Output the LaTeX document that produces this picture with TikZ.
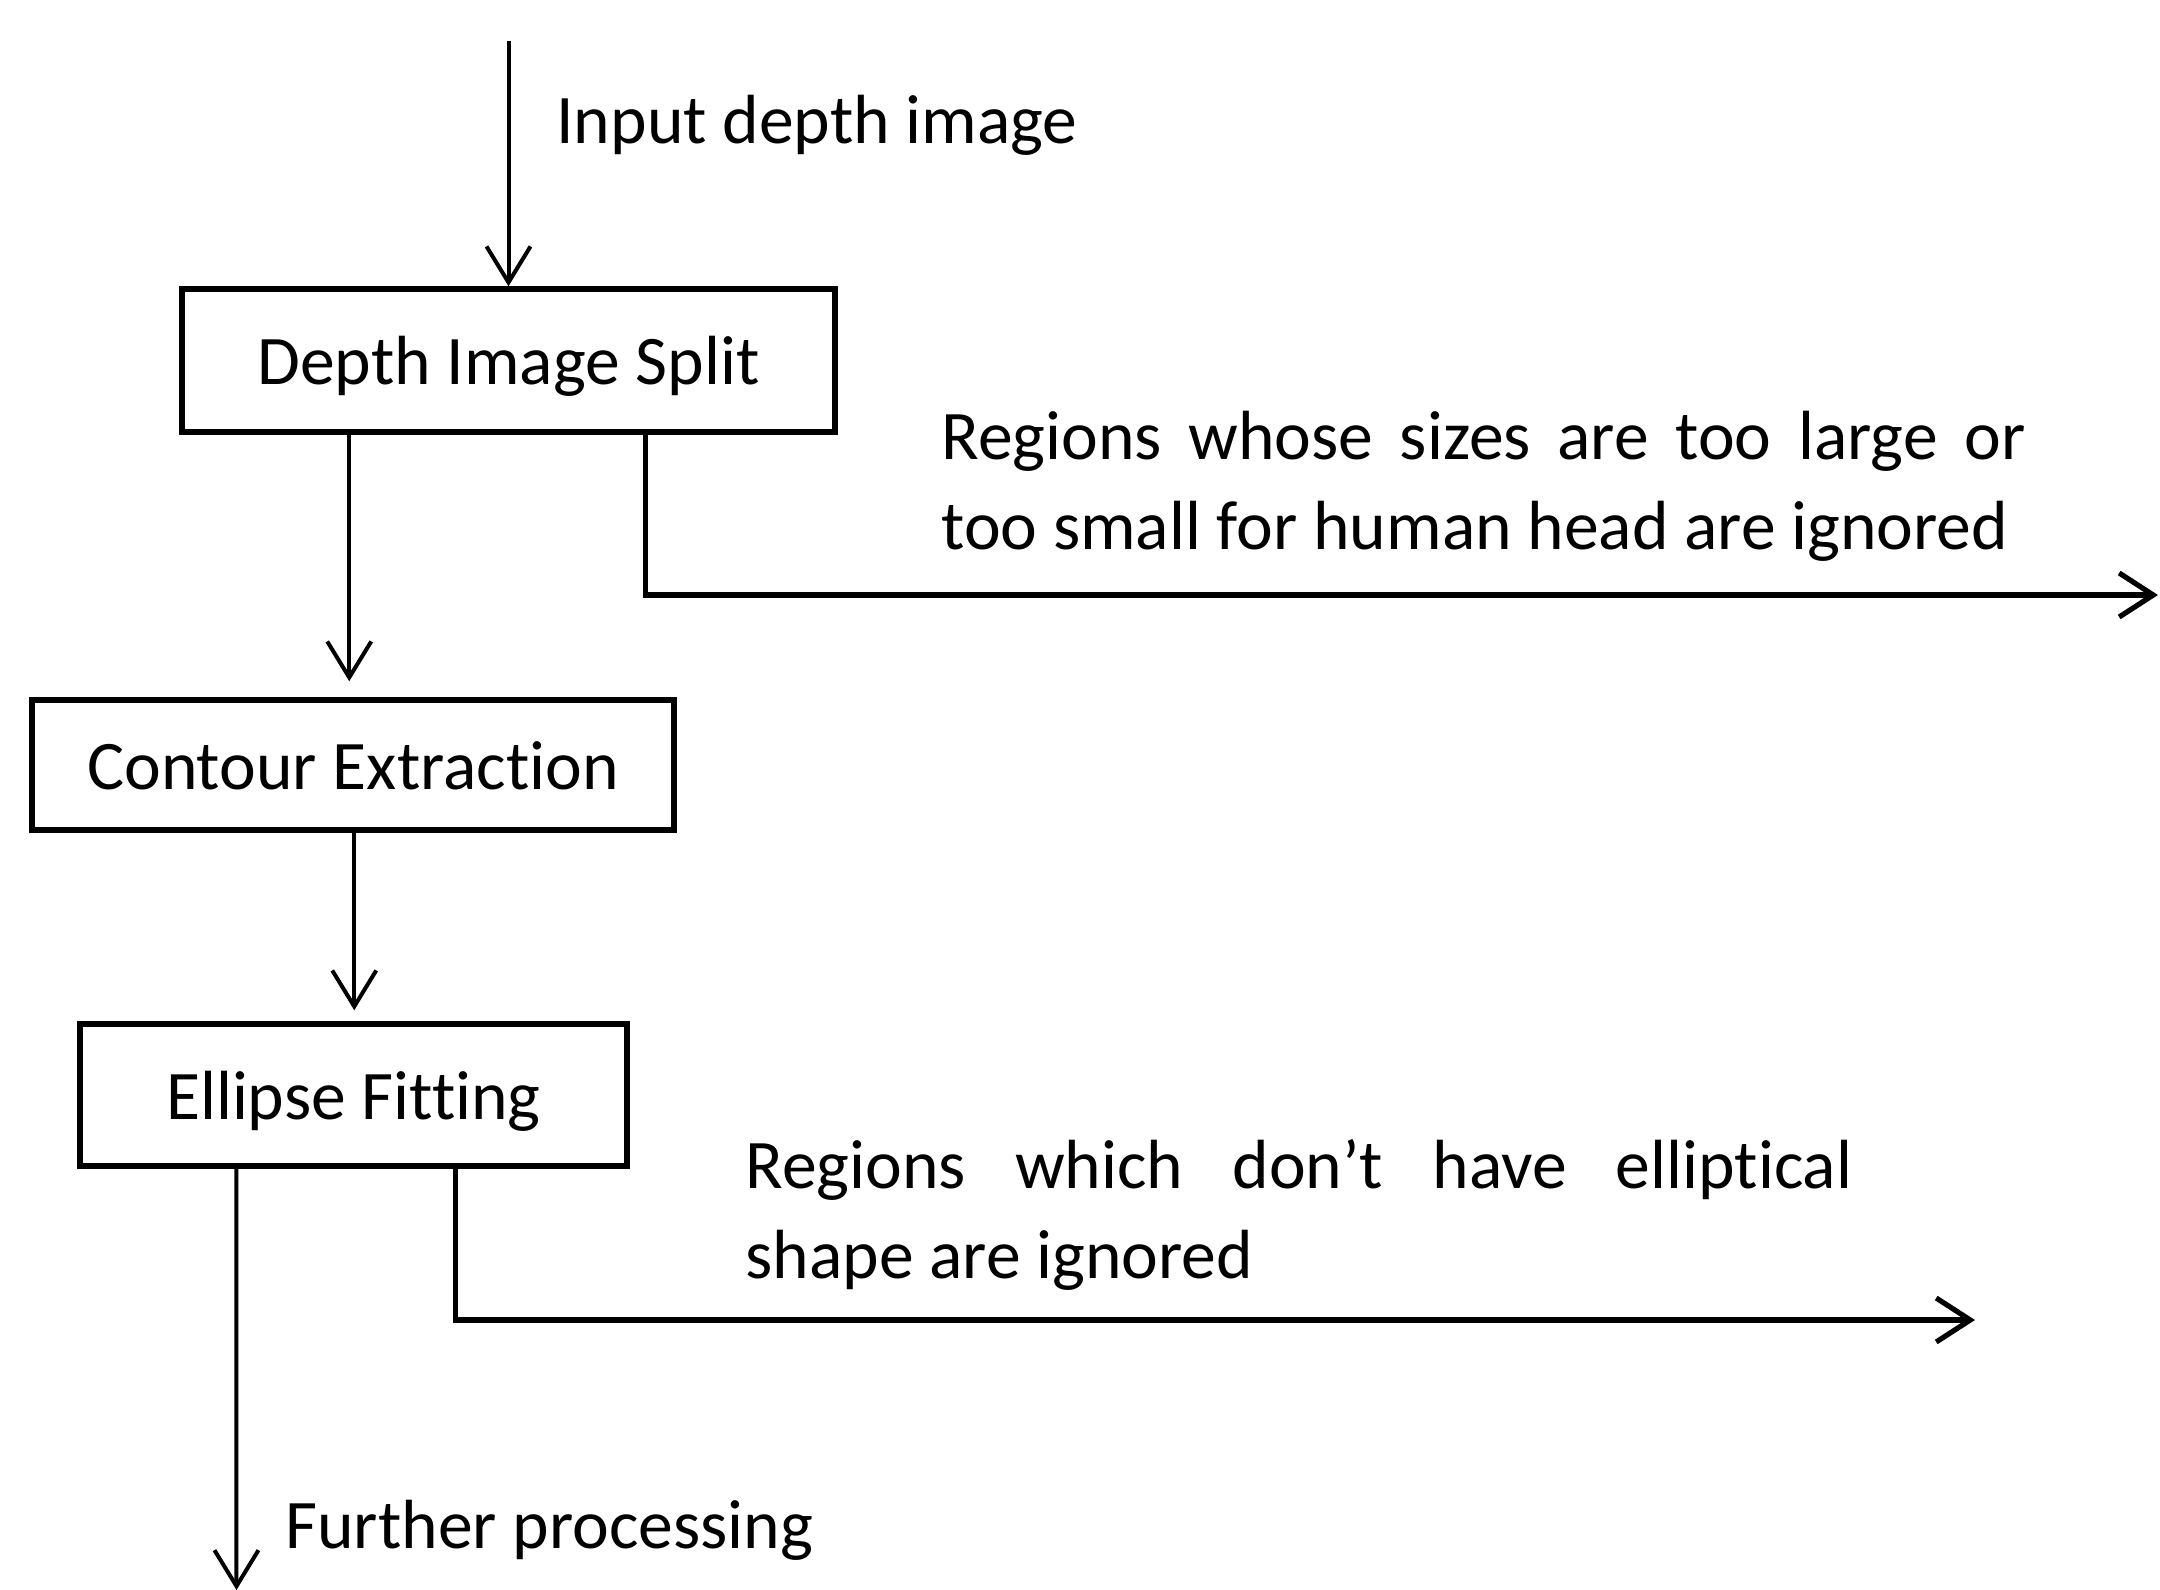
\documentclass[tikz,border=0pt]{standalone}
\usepackage{fontspec}
\setmainfont{Carlito}[Ligatures={NoCommon}]
\usetikzlibrary{arrows.meta,calc}
\begin{document}
\begin{tikzpicture}[x=0.5pt,y=-0.5pt,
  box/.style={draw, line width=2.75pt, inner sep=0pt, text height=30pt, text depth=6pt,
    font=\fontsize{34.8pt}{45pt}\selectfont},
  arr/.style={line width=2pt, -{Straight Barb[length=18pt,width=22pt]}},
  branch/.style={line width=2.6pt, -{Straight Barb[length=17pt,width=22pt]}},
  txt/.style={inner sep=0pt, font=\fontsize{34.8pt}{45pt}\selectfont}]
\useasboundingbox (0,0) rectangle (2160,1590);
% boxes
\node[box, minimum width=326.5pt, minimum height=71.5pt] (split) at (508.5,360.5) {Depth Image Split};
\node[box, minimum width=321pt, minimum height=65pt] (contour) at (353,765) {Contour Extraction};
\node[box, minimum width=273.5pt, minimum height=71pt] (ellipse) at (353.5,1095) {Ellipse Fitting};
% free ends and branch points
\coordinate (in) at (508.5,41);
\coordinate (out1) at (2158,595);
\coordinate (out2) at (1975,1320);
\coordinate (out3) at (236.5,1590);
\path (split.south west) ++(170,0) coordinate (a1);
\path (contour.south west) ++(325,0) coordinate (a2);
% labels
\node[txt, anchor=base west] (inlabel) at (556,143) {Input depth image};
\node[txt, anchor=base west, text width=542pt, align=justify] (note1) at (941,459)
  {Regions whose sizes are too large or\linebreak too small for human head are ignored};
\node[txt, anchor=base west, text width=553.5pt, align=justify] (note2) at (745,1188)
  {Regions which don’t have elliptical\linebreak shape are ignored};
\node[txt, anchor=base west] (further) at (285,1548) {Further processing};
% connectors
\draw[arr] (in) -- (split.north);
\draw[arr, shorten >=8pt] (a1) -- (a1 |- contour.north);
\draw[arr, shorten >=5.5pt] (a2) -- (a2 |- ellipse.north);
\draw[branch] ($(split.south west)+(466,0)$) |- (out1);
\draw[branch] ($(ellipse.south west)+(378,0)$) |- (out2);
\draw[arr] ($(ellipse.south west)+(159,0)$) -- (out3);
\end{tikzpicture}
\end{document}
